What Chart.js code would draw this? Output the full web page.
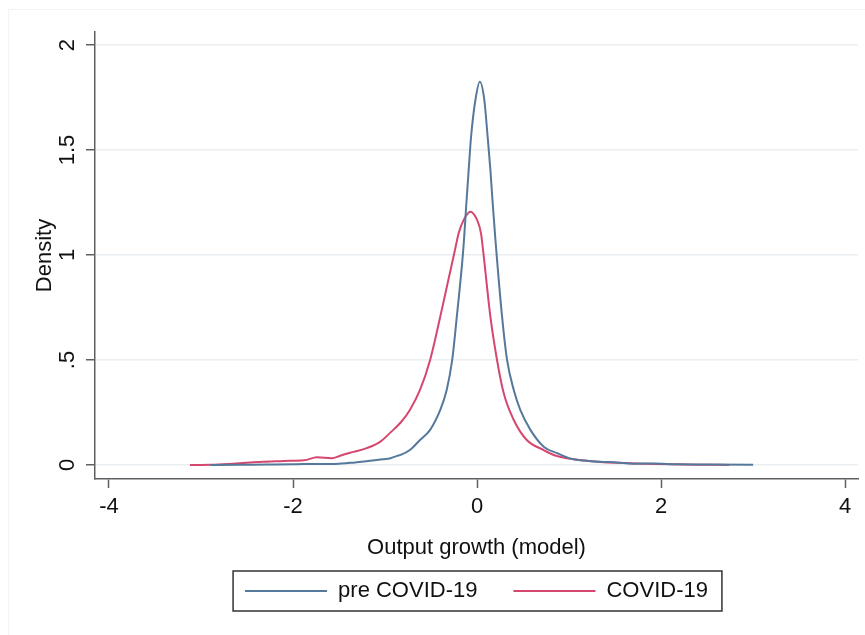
<!DOCTYPE html>
<html>
<head>
<meta charset="utf-8">
<script src="https://cdn.jsdelivr.net/npm/chart.js@4.4.1/dist/chart.umd.min.js"></script>
<style>
  body { margin: 0; background: #fff; }
  #wrap { position: relative; width: 865px; height: 635px; }
  #frame { position: absolute; left: 8px; top: 9px; right: 0; bottom: 0; border-top: 1px solid #f1f4f6; border-left: 1px solid #f1f4f6; pointer-events: none; }
</style>
</head>
<body>
<div id="wrap">
  <div id="frame"></div>
  <canvas id="chart" width="865" height="635"></canvas>
</div>
<script>
// kernel density estimates
const preX = [-2.90, -2.60, -2.28, -2.00, -1.74, -1.56, -1.38, -1.20, -1.02, -0.94, -0.87, -0.83, -0.73, -0.62, -0.51, -0.40, -0.33, -0.27, -0.22, -0.15, -0.116, -0.091, -0.065, -0.018, 0.03, 0.079, 0.115, 0.145, 0.17, 0.20, 0.272, 0.326, 0.399, 0.47, 0.58, 0.724, 0.87, 1.014, 1.16, 1.34, 1.52, 1.70, 1.92, 2.17, 2.50, 3.00];
const preY = [0.000, 0.001, 0.002, 0.003, 0.005, 0.004, 0.010, 0.018, 0.027, 0.032, 0.043, 0.048, 0.071, 0.119, 0.167, 0.262, 0.357, 0.500, 0.706, 1.024, 1.246, 1.405, 1.563, 1.738, 1.825, 1.738, 1.563, 1.405, 1.246, 1.071, 0.706, 0.500, 0.357, 0.262, 0.167, 0.087, 0.056, 0.030, 0.021, 0.015, 0.012, 0.006, 0.007, 0.003, 0.002, 0.001];

const covX = [-3.12, -2.90, -2.70, -2.46, -2.25, -2.10, -1.88, -1.74, -1.58, -1.48, -1.38, -1.20, -1.05, -0.94, -0.83, -0.73, -0.62, -0.51, -0.40, -0.32, -0.24, -0.20, -0.145, -0.073, 0.000, 0.043, 0.065, 0.145, 0.217, 0.29, 0.399, 0.54, 0.724, 0.85, 0.978, 1.16, 1.34, 1.52, 1.80, 2.10, 2.45, 2.74];
const covY = [0.000, 0.001, 0.005, 0.012, 0.016, 0.019, 0.022, 0.036, 0.032, 0.045, 0.058, 0.080, 0.111, 0.155, 0.202, 0.262, 0.357, 0.500, 0.706, 0.865, 1.024, 1.103, 1.167, 1.206, 1.167, 1.103, 1.024, 0.706, 0.500, 0.341, 0.214, 0.119, 0.071, 0.045, 0.032, 0.021, 0.014, 0.010, 0.006, 0.003, 0.001, 0.000];

const seriesNames = ['pre COVID-19', 'COVID-19'];
const xTicks = [-4, -2, 0, 2, 4];
const yTicks = [0, 0.5, 1, 1.5, 2];
const yTickLabels = ['0', '.5', '1', '1.5', '2'];

const FONT = "'Liberation Sans', Arial, sans-serif";
const toPoints = (xs, ys) => xs.map((x, i) => ({ x: x, y: ys[i] }));

// draws the box around the legend and keeps it centred under the plot
const legendBox = {
    id: 'legendBox',
    afterLayout(chart) {
        const lg = chart.legend;
        lg.left = chart.chartArea.left;
        lg.right = chart.chartArea.right;
        lg.width = lg.right - lg.left;
        lg.top -= 20;
    },
    afterDraw(chart) {
        const boxes = chart.legend.legendHitBoxes;
        if (!boxes || !boxes.length) return;
        const first = boxes[0], last = boxes[boxes.length - 1];
        const cy = first.top + first.height / 2;
        const ctx = chart.ctx;
        ctx.save();
        ctx.strokeStyle = '#333';
        ctx.lineWidth = 1.5;
        ctx.strokeRect(first.left - 12, cy - 20, last.left + last.width + 14 - (first.left - 12), 40);
        ctx.restore();
    }
};

new Chart(document.getElementById('chart'), {
    type: 'line',
    data: {
        datasets: [{
            label: seriesNames[0],
            data: toPoints(preX, preY),
            borderColor: '#55799b',
            backgroundColor: '#55799b',
            borderWidth: 2,
            pointRadius: 0,
            cubicInterpolationMode: 'monotone'
        }, {
            label: seriesNames[1],
            data: toPoints(covX, covY),
            borderColor: '#d5476f',
            backgroundColor: '#d5476f',
            borderWidth: 2,
            pointRadius: 0,
            cubicInterpolationMode: 'monotone'
        }]
    },
    options: {
        responsive: false,
        animation: false,
        layout: { padding: { top: 32, right: 7, bottom: 13, left: 0 } },
        plugins: {
            tooltip: { enabled: false },
            legend: {
                position: 'bottom',
                maxHeight: 58,
                labels: {
                    usePointStyle: true,
                    pointStyle: 'line',
                    pointStyleWidth: 82,
                    padding: 36,
                    color: '#111',
                    font: { family: FONT, size: 22 }
                }
            }
        },
        scales: {
            x: {
                type: 'linear',
                min: -4.152,
                max: 4.14,
                afterBuildTicks: s => { s.ticks = xTicks.map(v => ({ value: v })); },
                afterFit: s => { s.height = 85; },
                border: { color: '#606060', width: 1.5 },
                grid: { drawOnChartArea: false, tickLength: 9, tickColor: '#606060', tickWidth: 1.5 },
                ticks: { color: '#111', padding: 6, maxRotation: 0, font: { family: FONT, size: 22 } },
                title: { display: true, text: 'Output growth (model)', color: '#111', padding: { top: 0, bottom: 3 }, font: { family: FONT, size: 22 } }
            },
            y: {
                min: -0.067,
                max: 2.062,
                afterBuildTicks: s => { s.ticks = yTicks.map(v => ({ value: v })); },
                afterFit: s => { s.width = 95; },
                border: { color: '#606060', width: 1.5 },
                grid: { color: '#e9eef2', lineWidth: 1.5, tickLength: 9, tickColor: '#606060', tickWidth: 1.5 },
                ticks: {
                    color: '#111',
                    padding: 3,
                    minRotation: 90,
                    maxRotation: 90,
                    crossAlign: 'center',
                    font: { family: FONT, size: 22 },
                    callback: (v, i) => yTickLabels[i]
                },
                title: { display: true, text: 'Density', color: '#111', padding: { top: 32, bottom: 0 }, font: { family: FONT, size: 22 } }
            }
        }
    },
    plugins: [legendBox]
});
</script>
</body>
</html>
